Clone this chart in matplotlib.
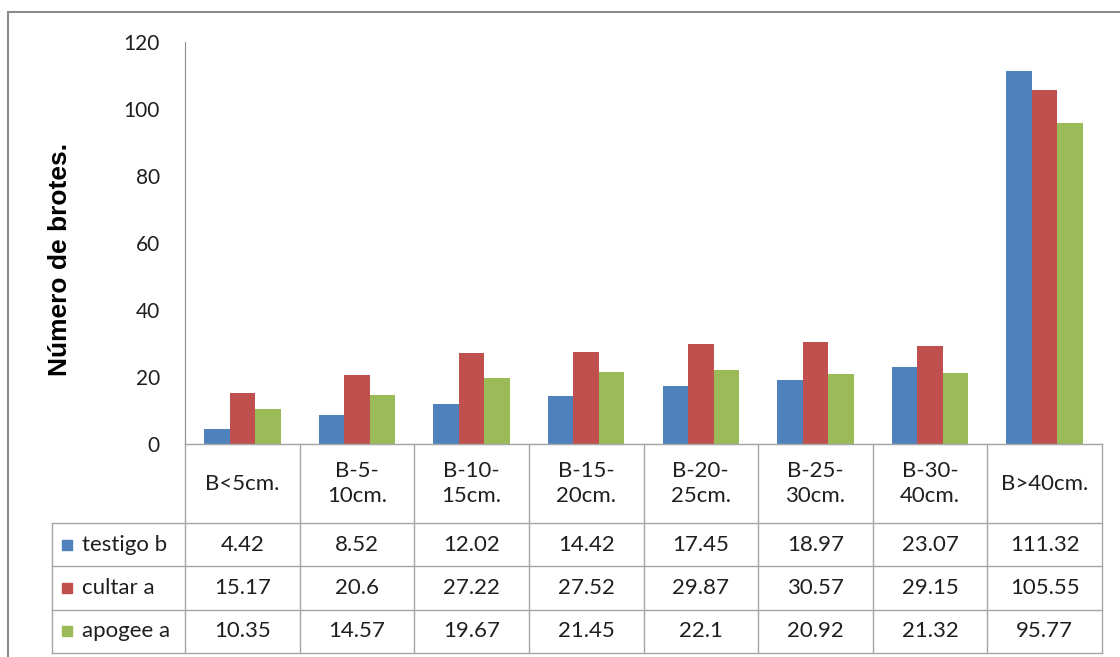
import numpy as np
import matplotlib.pyplot as plt
from matplotlib.patches import Rectangle
from matplotlib.transforms import blended_transform_factory

plt.rcParams['font.family'] = ['Lato', 'DejaVu Sans']

# data
categories = ['B<5cm.', 'B-5-\n10cm.', 'B-10-\n15cm.', 'B-15-\n20cm.',
              'B-20-\n25cm.', 'B-25-\n30cm.', 'B-30-\n40cm.', 'B>40cm.']
series_names = ['testigo b', 'cultar a', 'apogee a']
testigo = [4.42, 8.52, 12.02, 14.42, 17.45, 18.97, 23.07, 111.32]
cultar = [15.17, 20.6, 27.22, 27.52, 29.87, 30.57, 29.15, 105.55]
apogee = [10.35, 14.57, 19.67, 21.45, 22.1, 20.92, 21.32, 95.77]
colors = ['#4F81BD', '#C0504D', '#9BBB59']
series = [testigo, cultar, apogee]

W, H = 1120, 657
fig = plt.figure(figsize=(W / 100, H / 100), dpi=100)


def px(x0, y0, x1, y1):
    return [x0 / W, 1 - y1 / H, (x1 - x0) / W, (y1 - y0) / H]


# outer frame
fig.add_artist(Rectangle((8 / W, -0.1), 1.1, 1 - 12 / H + 0.1, transform=fig.transFigure,
                         fill=False, edgecolor='#8c8c8c', linewidth=1.5))

grid_col = '#a6a6a6'
txt_col = '#1f1f1f'

ax = fig.add_axes(px(185, 42, 1102, 444))
n = len(categories)
x = np.arange(n)
w = 1 / 4.5
for i, (vals, c) in enumerate(zip(series, colors)):
    ax.bar(x + (i - 1) * w, vals, w, color=c, linewidth=0)
ax.set_xlim(-0.5, n - 0.5)
ax.set_ylim(0, 120)
ax.set_yticks(range(0, 121, 20))
ax.set_xticks([])
ax.tick_params(axis='y', length=0, pad=18, labelsize=15, labelcolor=txt_col)
for s in ['top', 'right']:
    ax.spines[s].set_visible(False)
ax.spines['left'].set_color('#8c8c8c')
ax.spines['bottom'].set_color(grid_col)

fig.text(60 / W, 1 - 259 / H, 'Número de brotes.', rotation=90, ha='center', va='center',
         fontsize=19, fontweight='bold', family='Liberation Sans', color='black')

# data table
tax = fig.add_axes(px(52, 444, 1102, 653))
tax.set_xlim(52, 1102)
tax.set_ylim(653, 444)
tax.axis('off')
tr = blended_transform_factory(ax.transData, tax.transData)

rows = [444, 523, 566.3, 609.7, 653]
edges = np.arange(n + 1) - 0.5
for xe in edges:
    tax.plot([xe, xe], [444, 653], color=grid_col, lw=1, transform=tr, clip_on=False)
tax.plot([52, 52], [523, 653], color=grid_col, lw=1, clip_on=False)
tax.plot([-0.5, n - 0.5], [444, 444], color=grid_col, lw=1, transform=tr, clip_on=False)
for yr in rows[1:]:
    tax.plot([52, 1102], [yr, yr], color=grid_col, lw=1, clip_on=False)

for j, cat in enumerate(categories):
    tax.text(j, (rows[0] + rows[1]) / 2, cat, ha='center', va='center', transform=tr,
             fontsize=16, color=txt_col, linespacing=1.3)

for i, (name, vals, c) in enumerate(zip(series_names, series, colors)):
    yc = (rows[i + 1] + rows[i + 2]) / 2
    tax.add_patch(Rectangle((62, yc - 5), 10, 10, color=c, clip_on=False))
    tax.text(82, yc, name, ha='left', va='center', fontsize=16, color=txt_col)
    for j, v in enumerate(vals):
        tax.text(j, yc, f'{v:g}', ha='center', va='center', transform=tr,
                 fontsize=16, color=txt_col)

fig.savefig('out.png', dpi=100)
